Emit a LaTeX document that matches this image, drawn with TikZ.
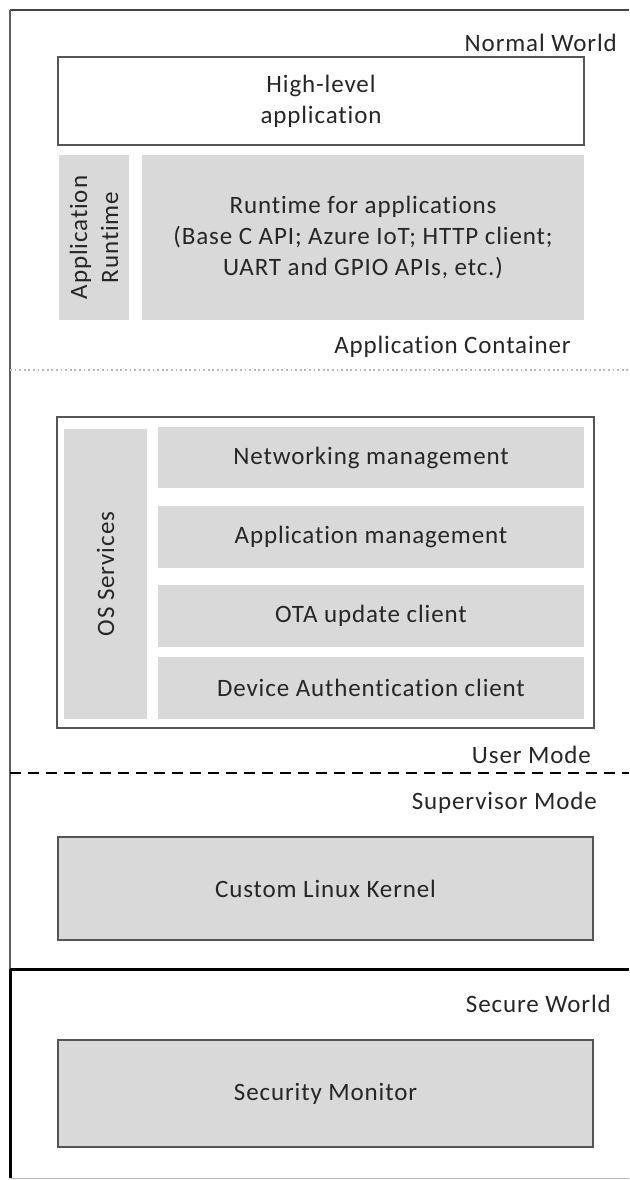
\documentclass[tikz,border=0pt]{standalone}
\usepackage{fontspec}
\setmainfont{Carlito}[LetterSpace=3.5, RawFeature={-liga}]
\definecolor{boxfill}{HTML}{D9D9D9}
\definecolor{boxline}{HTML}{555555}
\definecolor{inktext}{HTML}{262626}
\definecolor{frameline}{HTML}{444444}
\definecolor{dotline}{HTML}{B8B8B8}
\begin{document}
\begin{tikzpicture}[x=1pt,y=-1pt,
  every node/.style={font=\fontsize{25}{31}\selectfont, text=inktext, inner sep=0pt, align=center},
  framedbox/.style={draw=boxline, line width=1.6pt},
  whitebox/.style={framedbox, fill=white},
  shadebox/.style={fill=boxfill},
  shadeframed/.style={framedbox, fill=boxfill},
  layerlabel/.style={anchor=east},
  worldline/.style={line width=3pt, black}]
\useasboundingbox[fill=white] (0,0) rectangle (629,1180);

% outer frame of the normal world
\coordinate (tl) at (10,10);
\coordinate (tr) at (629,10);
\coordinate (ml) at (10,969);
\coordinate (mr) at (629,969);
\coordinate (bl) at (10,1178);
\coordinate (br) at (629,1178);
\draw[frameline, line width=1.8pt] (tr) -- (tl);
\draw[frameline!85, line width=1.5pt] (tl) -- (ml);

% boundary between normal and secure world
\draw[worldline] (ml) -- (mr);
\draw[worldline] (ml) -- (bl);
\draw[dotline, line width=1pt] (bl) -- (br);

% layer separators
\coordinate (dotL) at (10,370);
\coordinate (dotR) at (629,370);
\draw[dotline, line width=2pt, dash pattern=on 1.8pt off 2.8pt] (dotL) -- (dotR);
\coordinate (dashL) at (10,773);
\coordinate (dashR) at (629,773);
\draw[black, line width=1.6pt, dash pattern=on 11pt off 7pt] (dashL) -- (dashR);

% layer captions
\node[layerlabel] (normal) at (617,43) {Normal World};
\node[layerlabel] (container) at (571,347) {Application Container};
\node[layerlabel] (user) at (591,755) {User Mode};
\node[layerlabel] (supervisor) at (597,803) {Supervisor Mode};
\node[layerlabel] (secure) at (611,1004) {Secure World};

% application container
\node[whitebox, minimum width=526pt, minimum height=88pt] (hla) at (321,101) {High-level\\application};
\node[shadebox, minimum width=70pt, minimum height=165pt] (appruntime) at (94,237.5) {};
\node[rotate=90] (appruntimetext) at (appruntime.center) {Application\\Runtime};
\node[shadebox, minimum width=442pt, minimum height=165pt] (runtime) at (363,237.5)
  {Runtime for applications\\(Base C API; Azure IoT; HTTP client;\\UART and GPIO APIs, etc.)};

% OS services
\node[whitebox, minimum width=537pt, minimum height=311pt] (osbox) at (325.5,572.5) {};
\node[shadebox, minimum width=83pt, minimum height=290pt] (ossvc) at (105.5,574) {};
\node[rotate=90] (ossvctext) at (ossvc.center) {OS Services};
\node[shadebox, minimum width=426pt, minimum height=61pt] (net) at (371,457.5) {Networking management};
\node[shadebox, minimum width=426pt, minimum height=62pt] (appmgmt) at (371,537) {Application management};
\node[shadebox, minimum width=426pt, minimum height=62pt] (ota) at (371,616) {OTA update client};
\node[shadebox, minimum width=426pt, minimum height=62pt] (devauth) at (371,688) {Device Authentication client};

% kernel and secure monitor
\node[shadeframed, minimum width=535pt, minimum height=103pt] (kernel) at (325.5,888.5) {Custom Linux Kernel};
\node[shadeframed, minimum width=535pt, minimum height=107pt] (secmon) at (325.5,1093.5) {Security Monitor};
\end{tikzpicture}
\end{document}
